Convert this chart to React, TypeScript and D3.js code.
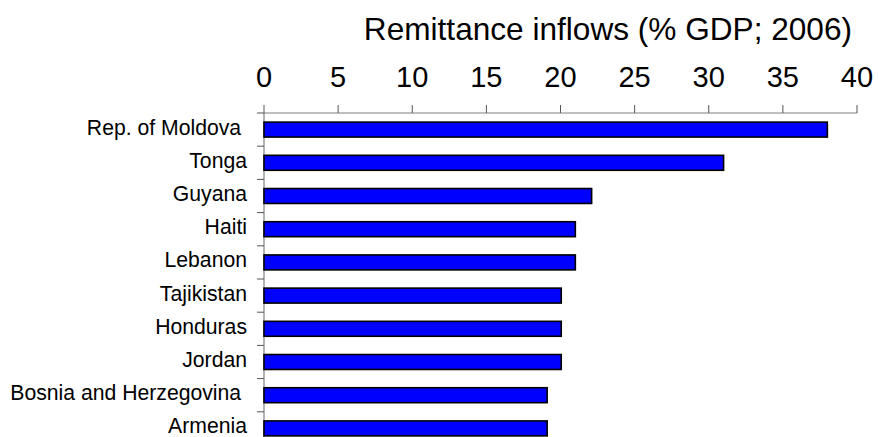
import React from "react";
import * as d3 from "d3";

const countries = [
  "Rep. of Moldova ",
  "Tonga",
  "Guyana",
  "Haiti",
  "Lebanon",
  "Tajikistan",
  "Honduras",
  "Jordan",
  "Bosnia and Herzegovina ",
  "Armenia",
];
const remittances = [38, 31, 22.1, 21, 21, 20.05, 20.05, 20.05, 19.1, 19.1];
const xTicks = [0, 5, 10, 15, 20, 25, 30, 35, 40];
const title = "Remittance inflows (% GDP; 2006)";

const width = 878;
const height = 437;
const margin = { top: 113, left: 264, right: 21 };

const App = () => {
  const x = d3
    .scaleLinear()
    .domain([0, 40])
    .range([margin.left, width - margin.right]);

  const y = d3
    .scaleBand<string>()
    .domain(countries)
    .range([margin.top, margin.top + 332])
    .paddingInner(0.55)
    .paddingOuter(0.275);

  const step = y.step();
  const bounds = d3.range(countries.length + 1).map((i) => margin.top + i * step);
  const font = "'Liberation Sans', Arial, sans-serif";

  return (
    <svg
      width={width}
      height={height}
      style={{ position: "absolute", left: 0, top: 0, background: "#fff" }}
      fontFamily={font}
    >
      <text x={852} y={40} textAnchor="end" fontSize={31.6} fill="#000">
        {title}
      </text>

      {/* top axis */}
      <line x1={x(0)} x2={x(40)} y1={margin.top} y2={margin.top} stroke="#808080" strokeWidth={1.2} />
      {xTicks.map((t) => (
        <g key={t}>
          <line x1={x(t)} x2={x(t)} y1={margin.top - 8} y2={margin.top} stroke="#555" strokeWidth={1} />
          <text x={x(t)} y={87} textAnchor="middle" fontSize={29} fill="#000">
            {t}
          </text>
        </g>
      ))}

      {/* left axis */}
      <line x1={x(0)} x2={x(0)} y1={margin.top} y2={height + 20} stroke="#808080" strokeWidth={1.2} />
      {bounds.map((b, i) => (
        <line key={i} x1={x(0) - 7} x2={x(0)} y1={b} y2={b} stroke="#555" strokeWidth={1} />
      ))}

      {countries.map((c, i) => (
        <g key={c}>
          <rect
            x={x(0)}
            y={y(c)!}
            width={x(remittances[i]) - x(0)}
            height={y.bandwidth()}
            fill="#0000ff"
            stroke="#000"
            strokeWidth={1.6}
          />
          <text
            x={247}
            y={y(c)! + y.bandwidth() / 2 + 5}
            textAnchor="end"
            fontSize={21.2}
            fill="#000"
            style={{ whiteSpace: "pre" }}
          >
            {c}
          </text>
        </g>
      ))}
    </svg>
  );
};

export default App;
